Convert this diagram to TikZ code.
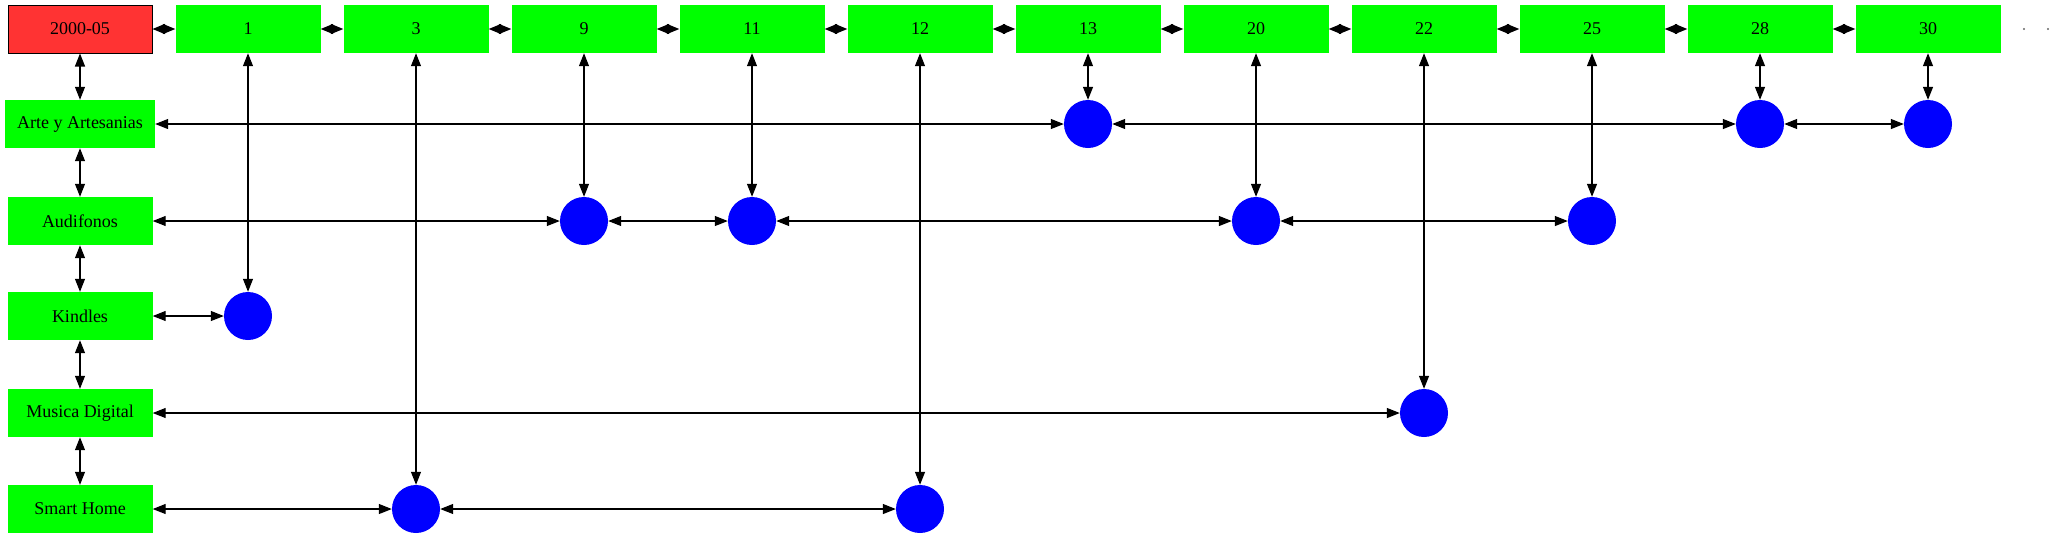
\documentclass[tikz,border=0pt]{standalone}
\usepackage{fontspec}
\setmainfont{Liberation Serif}
\usetikzlibrary{arrows.meta}
\definecolor{datered}{HTML}{FF3333}
\definecolor{boxgreen}{HTML}{00FF00}
\tikzset{
	datebox/.style={rectangle,draw=black,line width=1pt,fill=datered,minimum width=144pt,minimum height=48pt,inner sep=0pt},
	gbox/.style={rectangle,fill=boxgreen,minimum width=145pt,minimum height=48pt,inner xsep=12pt,inner ysep=0pt},
	ball/.style={circle,fill=blue,minimum size=48pt,inner sep=0pt},
	spot/.style={circle,fill=black!60,inner sep=0pt,minimum size=2.2pt},
	link/.style={{Triangle[length=13pt,width=10pt]}-{Triangle[length=13pt,width=10pt]},line width=1.2pt},
	hop/.style={{Triangle[length=12.5pt,width=10pt]}-{Triangle[length=12.5pt,width=10pt]},line width=1.2pt}
}

\begin{document}
\begin{tikzpicture}[x=1pt,y=-1pt,font=\fontsize{18pt}{20pt}\selectfont]
	\useasboundingbox (0,0) rectangle (2053,539);

	% top row
	\node [datebox] (d2000) at (80,29) {2000-05};
	\node [gbox] (t1) at (248,29) {1};
	\node [gbox] (t3) at (416,29) {3};
	\node [gbox] (t9) at (584,29) {9};
	\node [gbox] (t11) at (752,29) {11};
	\node [gbox] (t12) at (920,29) {12};
	\node [gbox] (t13) at (1088,29) {13};
	\node [gbox] (t20) at (1256,29) {20};
	\node [gbox] (t22) at (1424,29) {22};
	\node [gbox] (t25) at (1592,29) {25};
	\node [gbox] (t28) at (1760,29) {28};
	\node [gbox] (t30) at (1928,29) {30};
	\node [spot] (p1) at (2024,29) {};
	\node [spot] (p2) at (2048,29) {};

	% left column
	\node [gbox] (arte) at (80,124) {Arte y Artesanias};
	\node [gbox] (audi) at (80,221) {Audifonos};
	\node [gbox] (kind) at (80,316) {Kindles};
	\node [gbox] (musi) at (80,413) {Musica Digital};
	\node [gbox] (smart) at (80,509) {Smart Home};

	% balls
	\node [ball] (a13) at (1088,124) {};
	\node [ball] (a28) at (1760,124) {};
	\node [ball] (a30) at (1928,124) {};

	\node [ball] (b9) at (584,221) {};
	\node [ball] (b11) at (752,221) {};
	\node [ball] (b20) at (1256,221) {};
	\node [ball] (b25) at (1592,221) {};

	\node [ball] (k1) at (248,316) {};

	\node [ball] (m22) at (1424,413) {};

	\node [ball] (s3) at (416,509) {};
	\node [ball] (s12) at (920,509) {};

	\draw [hop] (d2000) -- (t1);
	\draw [hop] (t1) -- (t3);
	\draw [hop] (t3) -- (t9);
	\draw [hop] (t9) -- (t11);
	\draw [hop] (t11) -- (t12);
	\draw [hop] (t12) -- (t13);
	\draw [hop] (t13) -- (t20);
	\draw [hop] (t20) -- (t22);
	\draw [hop] (t22) -- (t25);
	\draw [hop] (t25) -- (t28);
	\draw [hop] (t28) -- (t30);

	\draw [link] (d2000) -- (arte);
	\draw [link] (arte) -- (audi);
	\draw [link] (audi) -- (kind);
	\draw [link] (kind) -- (musi);
	\draw [link] (musi) -- (smart);

	\draw [link] (t1) -- (k1);
	\draw [link] (t3) -- (s3);
	\draw [link] (t9) -- (b9);
	\draw [link] (t11) -- (b11);
	\draw [link] (t12) -- (s12);
	\draw [link] (t13) -- (a13);
	\draw [link] (t20) -- (b20);
	\draw [link] (t22) -- (m22);
	\draw [link] (t25) -- (b25);
	\draw [link] (t28) -- (a28);
	\draw [link] (t30) -- (a30);

	\draw [link] (arte) -- (a13);
	\draw [link] (a13) -- (a28);
	\draw [link] (a28) -- (a30);

	\draw [link] (audi) -- (b9);
	\draw [link] (b9) -- (b11);
	\draw [link] (b11) -- (b20);
	\draw [link] (b20) -- (b25);

	\draw [link] (kind) -- (k1);
	\draw [link] (musi) -- (m22);
	\draw [link] (smart) -- (s3);
	\draw [link] (s3) -- (s12);
\end{tikzpicture}
\end{document}
